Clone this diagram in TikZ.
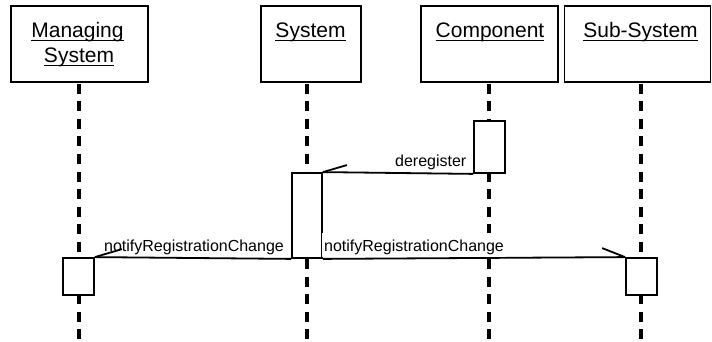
\documentclass[tikz,border=0pt]{standalone}
\usepackage{fontspec}
\setmainfont{Liberation Sans}
\begin{document}
\begin{tikzpicture}[x=1pt,y=-1pt,
  objbox/.style={draw=black,line width=1.8pt,fill=white,inner sep=0pt},
  ttl/.style={inner sep=0pt,anchor=base,font=\fontsize{21}{24}\selectfont},
  uline/.style={line width=1.4pt},
  life/.style={line width=3.3pt,dash pattern=on 10pt off 7.5pt},
  act/.style={draw=black,line width=1.8pt,fill=white,inner sep=0pt},
  msg/.style={line width=1.8pt},
  lbl/.style={inner sep=0pt,font=\fontsize{16}{19}\selectfont},
  lblw/.style={inner xsep=2pt,inner ysep=0pt,fill=white,text height=18pt,text depth=6.3pt,font=\fontsize{16}{19}\selectfont}]
\useasboundingbox (0,0) rectangle (712,342);
% object boxes
\node[objbox,minimum width=137pt,minimum height=76pt] (mgr) at (79.5,44) {};
\node[objbox,minimum width=100pt,minimum height=76pt] (sys) at (311,44) {};
\node[objbox,minimum width=137pt,minimum height=76pt] (comp) at (489.5,44) {};
\node[objbox,minimum width=146pt,minimum height=76pt] (sub) at (637.5,44) {};
% titles
\node[ttl] (t1) at (77.5,37.7) {Managing};
\node[ttl] (t2) at (79,62.7) {System};
\node[ttl] (t3) at (310.5,37.7) {System};
\node[ttl] (t4) at (490,37.7) {Component};
\node[ttl] (t5) at (640.5,37.7) {Sub-System};
\foreach \t in {t1,t2,t3,t4,t5}{
  \draw[uline] ([yshift=-2.6pt]\t.base west) -- ([yshift=-2.6pt]\t.base east);
}
% lifelines
\coordinate (l1a) at (79,84); \coordinate (l1b) at (79,342);
\coordinate (l2a) at (307,84); \coordinate (l2b) at (307,342);
\coordinate (l3a) at (489,84); \coordinate (l3b) at (489,342);
\coordinate (l4a) at (641,84); \coordinate (l4b) at (641,342);
\draw[life] (l1a) -- (l1b);
\draw[life] (l2a) -- (l2b);
\draw[life] (l3a) -- (l3b);
\draw[life] (l4a) -- (l4b);
% activations
\node[act,minimum width=31pt,minimum height=52pt] (ca) at (489.5,147) {};
\node[act,minimum width=30pt,minimum height=85pt] (sa) at (307,215.5) {};
\node[act,minimum width=31pt,minimum height=37pt] (ma) at (78.5,276.5) {};
\node[act,minimum width=31pt,minimum height=37pt] (ua) at (641.5,276.5) {};
% messages
\draw[msg] (ca.south west) -- (sa.north east);
\draw[msg] (sa.north east) -- ++(24,-7);
\node[lbl,anchor=base east] (m1) at (466.5,167) {deregister};
\draw[msg] (sa.south west) -- (ma.north east);
\draw[msg] (ma.north east) -- ++(27,-8);
\node[lbl,anchor=base west] (m2) at (104,251) {notifyRegistrationChange};
\draw[msg] (sa.south east) -- (ua.north west);
\draw[msg] (ua.north west) -- ++(-23,-9);
\node[lblw,anchor=base west] (m3) at (322,251) {notifyRegistrationChange};
\end{tikzpicture}
\end{document}
